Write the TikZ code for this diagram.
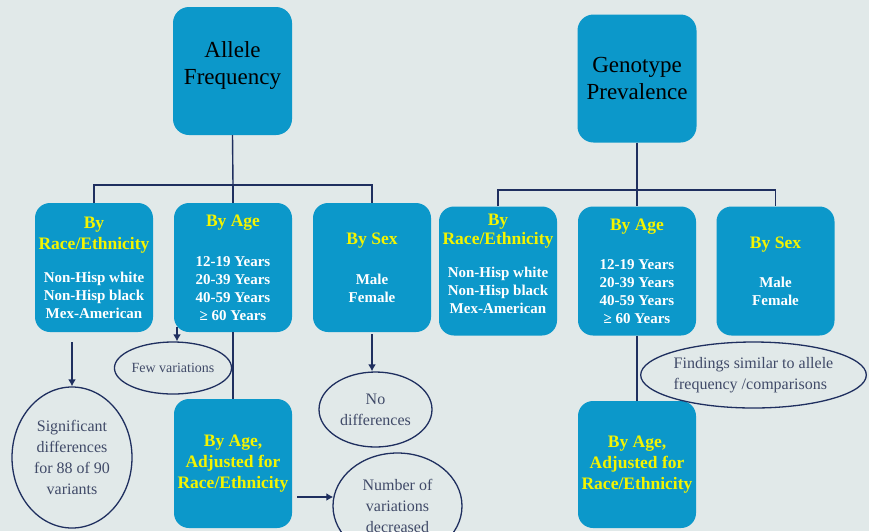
\documentclass[tikz,border=0pt]{standalone}
\usepackage{fontspec}
\setmainfont{Liberation Serif}
\usetikzlibrary{shapes.geometric,arrows.meta,calc}

\definecolor{bgcol}{HTML}{E1E9E9}
\definecolor{boxcol}{HTML}{0C98CA}
\definecolor{headcol}{HTML}{F4F400}
\definecolor{linecol}{HTML}{1F2F5F}
\definecolor{notecol}{HTML}{404A68}

\tikzset{
	rootbox/.style={fill=boxcol, rounded corners=16pt, minimum width=119pt, minimum height=128pt, inner sep=1pt, align=center, text=black, font=\fontsize{23}{27}\selectfont},
	catbox/.style={fill=boxcol, rounded corners=15pt, minimum width=118pt, minimum height=129pt, inner sep=1pt, align=center, text=white, font=\bfseries\fontsize{15}{18}\selectfont},
	adjbox/.style={catbox, text=headcol, font=\bfseries\fontsize{17.5}{21}\selectfont},
	note/.style={ellipse, draw=linecol, line width=1.3pt, inner sep=0pt, align=center, text=notecol, font=\fontsize{16}{21}\selectfont},
	tree/.style={draw=linecol, line width=1.4pt},
	arr/.style={draw=linecol, line width=2.4pt, -{Latex[length=7pt,width=8pt]}},
}
\newcommand{\hd}[1]{{\color{headcol}\fontsize{17.5}{21}\selectfont #1}}

\begin{document}
\begin{tikzpicture}[x=1pt, y=-1pt]
	\clip (0,0) rectangle (869,531);
	\fill[bgcol] (0,0) rectangle (869,531);

	% allele frequency
	\node[rootbox] (allele) at (232.5,71) {Allele\\ Frequency\\[-12pt]\mbox{}};
	\coordinate (bus1) at (233,185);
	\node[catbox] (race1) at (94,267.5) {\hd{By}\\[3pt] \hd{Race/Ethnicity}\\[15pt] Non-Hisp white\\ Non-Hisp black\\ Mex-American};
	\node[catbox] (age1) at (233,267.5) {\hd{By Age}\\[22pt] 12-19 Years\\ 20-39 Years\\ 40-59 Years\\ ≥ 60 Years};
	\node[catbox] (sex1) at (372,267.5) {\hd{By Sex}\\[22pt] Male\\ Female};
	\node[adjbox] (adj1) at (233,463.5) {By Age,\\ Adjusted for\\ Race/Ethnicity};

	\node[note, minimum width=120pt, minimum height=141pt] (signif) at (72,457.5) {Significant\\ differences\\ for 88 of 90\\ variants};
	\node[note, minimum width=112pt, minimum height=52pt, font=\fontsize{14}{17}\selectfont] (few) at (173,368) {Few variations};
	\node[note, minimum width=113pt, minimum height=75pt] (nodiff) at (375.5,409.5) {No\\ differences};
	\node[note, minimum width=129pt, minimum height=106pt] (numvar) at (397.5,506) {Number of\\ variations\\ decreased};

	\draw[tree] (allele.south) -- (bus1);
	\draw[tree] (race1.north) |- (bus1) -| (sex1.north);
	\draw[tree] (bus1) -- (age1.north);
	\draw[tree] (age1.south) -- (adj1.north);

	\draw[arr, shorten <=10pt] (signif.north |- race1.south) -- (signif.north);
	\draw[arr] ([xshift=4pt,yshift=5pt]few.north |- age1.south) -- ([xshift=4pt]few.north);
	\draw[arr, shorten <=2pt] (sex1.south) -- (sex1.south |- nodiff.north);
	\draw[arr, shorten <=5pt] (adj1.east |- numvar.172) -- (numvar.172);

	% genotype prevalence
	\node[rootbox] (geno) at (637,78.5) {Genotype\\ Prevalence};
	\coordinate (bus2) at (637,190);
	\node[catbox] (race2) at (498,271) {\hd{By}\\[1pt] \hd{Race/Ethnicity}\\[15pt] Non-Hisp white\\ Non-Hisp black\\ Mex-American\\[-3pt]\mbox{}};
	\node[catbox] (age2) at (637,271) {\hd{By Age}\\[21pt] 12-19 Years\\ 20-39 Years\\ 40-59 Years\\ ≥ 60 Years};
	\node[catbox] (sex2) at (775.5,271) {\hd{By Sex}\\[21pt] Male\\ Female};
	\node[adjbox, minimum height=127pt] (adj2) at (637,464.5) {By Age,\\ Adjusted for\\ Race/Ethnicity};

	\node[note, minimum width=225pt, minimum height=66pt, align=left] (similar) at (753.5,375) {Findings similar to allele\\ frequency /comparisons};

	\draw[tree] (geno.south) -- (bus2);
	\draw[tree] (race2.north) |- (bus2) -| (sex2.north);
	\draw[tree] (bus2) -- (age2.north);
	\draw[tree] (age2.south) -- (adj2.north);
\end{tikzpicture}
\end{document}
